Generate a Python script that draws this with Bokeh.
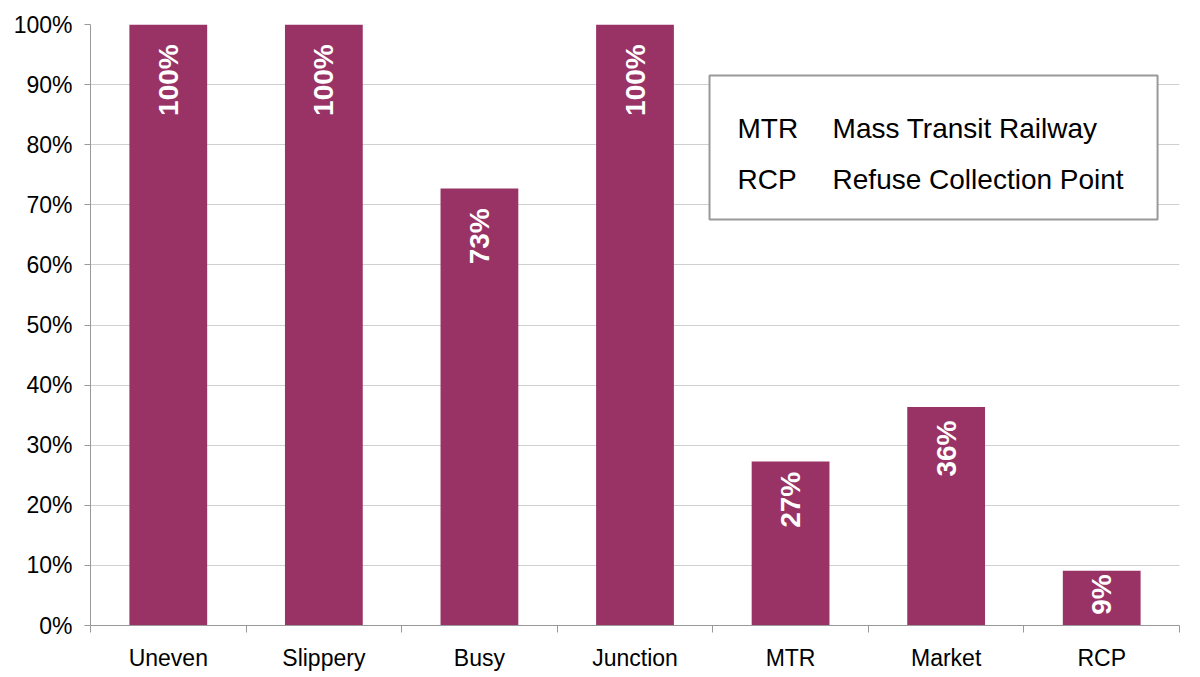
import math
from bokeh.plotting import figure
from bokeh.models import Range1d, FixedTicker, NumeralTickFormatter, Label, ColumnDataSource
from bokeh.core.properties import value
from bokeh.embed import file_html
from bokeh.resources import INLINE

categories = ["Uneven", "Slippery", "Busy", "Junction", "MTR", "Market", "RCP"]
shares = [1.0, 1.0, 8 / 11, 1.0, 3 / 11, 4 / 11, 1 / 11]
bar_labels = [f"{round(v * 100)}%" for v in shares]
y_ticks = [i / 10 for i in range(11)]
legend_abbr = ["MTR", "RCP"]
legend_full = ["Mass Transit Railway", "Refuse Collection Point"]

FONT = "Liberation Sans"
BAR = "#993366"

xs = [i + 0.5 for i in range(len(categories))]
label_y = [v - min(0.033, 0.062 * v) for v in shares]
src = ColumnDataSource(dict(x=xs, top=shares, lab=bar_labels, ly=label_y))

p = figure(frame_width=1089, frame_height=601,
           x_range=Range1d(0, len(categories)), y_range=Range1d(0, 1),
           output_backend="svg", toolbar_location=None,
           min_border_left=90, min_border_top=24, min_border_right=13, min_border_bottom=45)
p.outline_line_color = None
p.background_fill_color = "white"

p.vbar(x="x", top="top", width=0.5, bottom=0, source=src,
       fill_color=BAR, line_color=None)
p.text(x="x", y="ly", text="lab", source=src, angle=math.pi / 2,
       text_align="right", text_baseline="middle", text_color="white",
       text_font=value(FONT), text_font_style="bold", text_font_size="28px")

# x axis: labels at centres, ticks at category boundaries
p.xaxis.ticker = FixedTicker(ticks=xs, minor_ticks=list(range(len(categories) + 1)))
p.xaxis.major_label_overrides = {x: c for x, c in zip(xs, categories)}
p.xaxis.major_tick_line_color = None
p.xaxis.major_tick_out = 0
p.xaxis.major_tick_in = 0
p.xaxis.minor_tick_out = 7
p.xaxis.minor_tick_in = 0
p.xaxis.minor_tick_line_color = "#999999"
p.xaxis.axis_line_color = "#999999"
p.xaxis.major_label_standoff = 12
p.xaxis.major_label_text_font = FONT
p.xaxis.major_label_text_font_size = "23px"
p.xaxis.major_label_text_color = "black"
p.xgrid.visible = False

p.yaxis.ticker = FixedTicker(ticks=y_ticks, minor_ticks=[])
p.yaxis.formatter = NumeralTickFormatter(format="0%")
p.yaxis.major_tick_out = 6
p.yaxis.major_tick_in = 0
p.yaxis.major_tick_line_color = "#999999"
p.yaxis.axis_line_color = "#999999"
p.yaxis.major_label_standoff = 12
p.yaxis.major_label_text_font = FONT
p.yaxis.major_label_text_font_size = "23px"
p.yaxis.major_label_text_color = "black"
p.ygrid.grid_line_color = "#d0d0d0"
p.ygrid.ticker = FixedTicker(ticks=y_ticks)

# abbreviation key box
p.quad(left=3.979, right=6.859, top=0.9151, bottom=0.6755,
       fill_color="white", line_color="#999999", line_width=2)
for i, (a, f) in enumerate(zip(legend_abbr, legend_full)):
    yy = 0.827 - i * 0.0857
    p.add_layout(Label(x=4.159, y=yy, text=a, text_font=FONT, text_font_size="28px",
                       text_baseline="middle", text_color="black"))
    p.add_layout(Label(x=4.770, y=yy, text=f, text_font=FONT, text_font_size="28px",
                       text_baseline="middle", text_color="black"))

open("out.html", "w").write(file_html(p, INLINE))
